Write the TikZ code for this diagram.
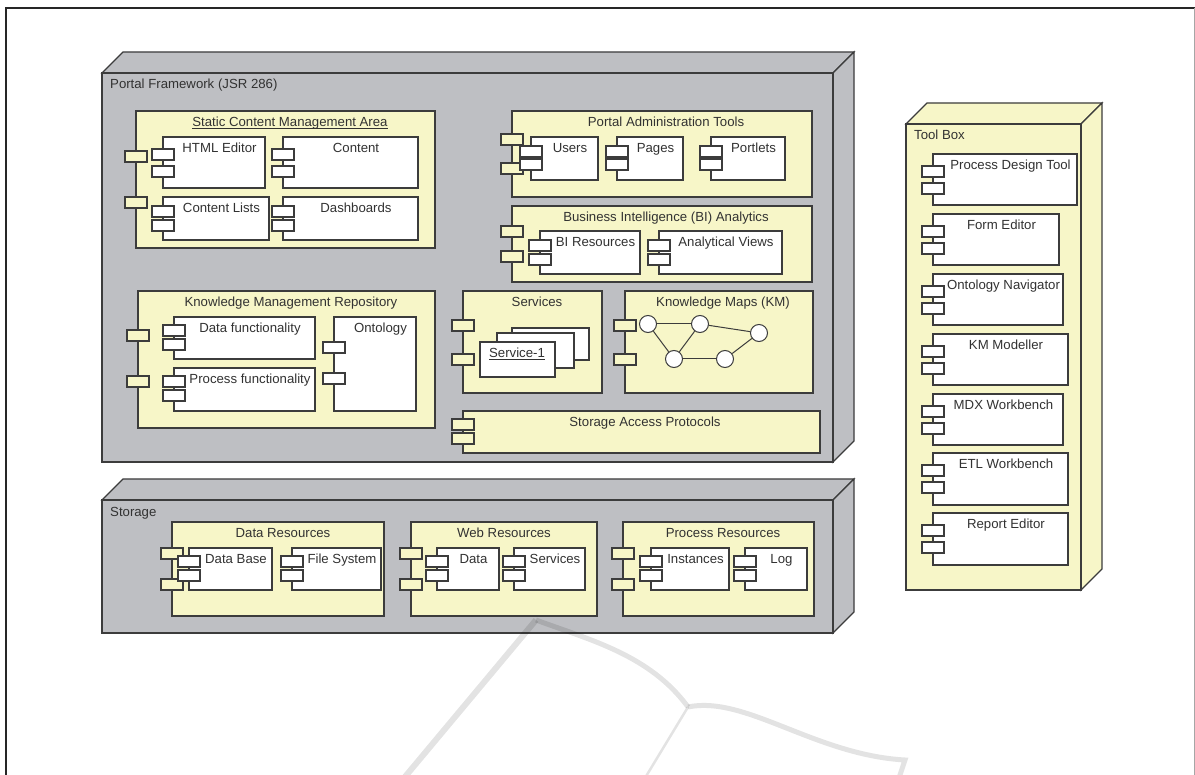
\documentclass[tikz,border=0pt]{standalone}
\usepackage{fontspec}
\setmainfont{Liberation Sans}
\usetikzlibrary{shadows}
\definecolor{nodegray}{RGB}{190,191,195}
\definecolor{partyellow}{RGB}{247,246,200}
\definecolor{edgedark}{RGB}{60,60,60}
\definecolor{labeldark}{RGB}{50,50,50}
\tikzset{
  outline/.style={draw=edgedark,line width=1.1pt,line join=miter,
    drop shadow={shadow xshift=1pt,shadow yshift=-1.2pt,opacity=.3,fill=black}},
  plainface/.style={draw=edgedark,line width=1.1pt,line join=miter},
  partbox/.style={outline,fill=partyellow},
  compbox/.style={outline,fill=white},
  outerport/.style={plainface,fill=partyellow},
  innerport/.style={plainface,fill=white},
  txt/.style={font=\fontsize{13.2}{15}\selectfont,text=labeldark,inner sep=0pt,anchor=base},
  kmnode/.style={circle,draw=edgedark,line width=1pt,fill=white,minimum size=17pt,inner sep=0pt},
  kmedge/.style={draw=edgedark,line width=1pt},
  bookline/.style={black,opacity=.11,line join=miter}
}
% box with depth: x0,y0,x1,y1,colour
\newcommand{\solidbox}[5]{
  \draw[plainface,fill=#5] (#1,#2) -- ++(21,-21) -- (#3+21,#2-21) -- (#3,#2) -- cycle;
  \draw[plainface,fill=#5] (#3,#2) -- (#3+21,#2-21) -- (#3+21,#4-21) -- (#3,#4) -- cycle;
  \draw[outline,fill=#5] (#1,#2) rectangle (#3,#4);
}
% yellow part: name,x0,y0,x1,y1,port1,port2,labelx,label
\newcommand{\partbox}[9]{
  \draw[partbox] (#2,#3) rectangle (#4,#5);
  \draw[outerport] (#2-11,#6) rectangle ++(22,11);
  \draw[outerport] (#2-11,#7) rectangle ++(22,11);
  \node[txt] (#1) at (#8,#3+16) {#9};
}
% white component: name,x0,y0,x1,y1,port1,port2,label
\newcommand{\comp}[8]{
  \draw[compbox] (#2,#3) rectangle (#4,#5);
  \draw[innerport] (#2-11,#3+#6) rectangle ++(22,11);
  \draw[innerport] (#2-11,#3+#7) rectangle ++(22,11);
  \node[txt] (#1) at ({(#2+11+#4)/2},#3+15.7) {#8};
}

\begin{document}
\begin{tikzpicture}[x=1pt,y=-1pt]
  \useasboundingbox (0,0) rectangle (1195,775);
  \fill[white] (0,0) rectangle (1195,775);

  % page frame
  \draw[black!85,line width=1.3pt] (6,775) -- (6,8) -- (1195,8);
  \draw[black!35,line width=0.8pt] (1194,8) -- (1194,775);

  % portal framework
  \solidbox{102}{73}{833}{462}{nodegray}
  \node[txt,anchor=base west] (portal) at (110,89) {Portal Framework (JSR 286)};

  \partbox{static}{136}{111}{435}{248}{151}{197}{290}{\underline{\smash{Static Content Management Area}}}
  \comp{html}{163}{137}{265}{188}{12}{29}{HTML Editor}
  \comp{content}{283}{137}{418}{188}{12}{29}{Content}
  \comp{lists}{163}{197}{269}{240}{9}{23}{Content Lists}
  \comp{dash}{283}{197}{418}{240}{9}{23}{Dashboards}

  \partbox{admin}{512}{111}{812}{197}{134}{163}{666}{Portal Administration Tools}
  \comp{users}{531}{137}{598}{180}{9}{22}{Users}
  \comp{pages}{617}{137}{683}{180}{9}{22}{Pages}
  \comp{portlets}{711}{137}{785}{180}{9}{22}{Portlets}

  \partbox{bi}{512}{206}{812}{282}{226}{251}{666}{Business Intelligence (BI) Analytics}
  \comp{bires}{540}{231}{640}{274}{9}{23}{BI Resources}
  \comp{views}{659}{231}{782}{274}{9}{23}{Analytical Views}

  \partbox{kmr}{138}{291}{435}{428}{330}{376}{291}{Knowledge Management Repository}
  \comp{datafn}{174}{317}{315}{359}{8}{22}{Data functionality}
  \comp{procfn}{174}{368}{315}{411}{8}{22}{Process functionality}
  \comp{onto}{334}{317}{416}{411}{25}{56}{Ontology}

  \partbox{services}{463}{291}{602}{393}{320}{354}{537}{Services}
  \draw[compbox] (512,328) rectangle (589,360);
  \draw[compbox] (497,333) rectangle (574,368);
  \draw[compbox] (480,342) rectangle (555,377);
  \node[txt] (service) at (517,358) {\underline{\smash{Service-1}}};

  \partbox{kmaps}{625}{291}{813}{393}{320}{354}{723}{Knowledge Maps (KM)}
  \node[kmnode] (kma) at (648,324) {};
  \node[kmnode] (kmb) at (700,324) {};
  \node[kmnode] (kmc) at (759,333) {};
  \node[kmnode] (kmd) at (674,359) {};
  \node[kmnode] (kme) at (725,359) {};
  \draw[kmedge] (kma) -- (kmb);
  \draw[kmedge] (kmb) -- (kmc);
  \draw[kmedge] (kma) -- (kmd);
  \draw[kmedge] (kmb) -- (kmd);
  \draw[kmedge] (kmd) -- (kme);
  \draw[kmedge] (kme) -- (kmc);

  \partbox{access}{463}{411}{820}{453}{419}{433}{645}{Storage Access Protocols}

  % storage
  \solidbox{102}{500}{833}{633}{nodegray}
  \node[txt,anchor=base west] (storage) at (110,517) {Storage};

  \partbox{datares}{172}{522}{384}{616}{548}{579}{283}{Data Resources}
  \comp{database}{189}{548}{272}{590}{8}{22}{Data Base}
  \comp{filesys}{292}{548}{381}{590}{8}{22}{File System}

  \partbox{webres}{411}{522}{597}{616}{548}{579}{504}{Web Resources}
  \comp{webdata}{437}{548}{499}{590}{8}{22}{Data}
  \comp{webserv}{514}{548}{585}{590}{8}{22}{Services}

  \partbox{procres}{623}{522}{814}{616}{548}{579}{723}{Process Resources}
  \comp{inst}{651}{548}{729}{590}{8}{22}{Instances}
  \comp{logs}{745}{548}{807}{590}{8}{22}{Log}

  % tool box
  \solidbox{906}{124}{1081}{590}{partyellow}
  \node[txt,anchor=base west] (toolbox) at (914,140) {Tool Box};
  \comp{design}{933}{154}{1077}{205}{12}{29}{Process Design Tool}
  \comp{form}{933}{214}{1059}{265}{12}{29}{Form Editor}
  \comp{navi}{933}{274}{1063}{325}{12}{29}{Ontology Navigator}
  \comp{modeller}{933}{334}{1068}{385}{12}{29}{KM Modeller}
  \comp{mdx}{933}{394}{1063}{445}{12}{29}{MDX Workbench}
  \comp{etl}{933}{453}{1068}{505}{12}{29}{ETL Workbench}
  \comp{report}{933}{513}{1068}{565}{12}{29}{Report Editor}

  % book outline
  \draw[bookline,line width=6pt] (404,778) -- (536,620);
  \draw[bookline,line width=5pt] (536,620) .. controls (590,640) and (650,655) .. (688,707);
  \draw[bookline,line width=2.5pt] (688,707) -- (645,778);
  \draw[bookline,line width=5pt] (688,707) .. controls (745,695) and (815,755) .. (905,760) -- (899,778);
\end{tikzpicture}
\end{document}
